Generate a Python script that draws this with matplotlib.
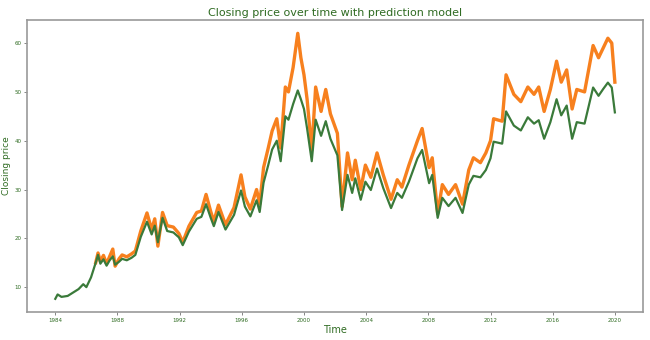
import matplotlib
matplotlib.use("Agg")
import matplotlib.pyplot as plt
from matplotlib.ticker import MultipleLocator, FormatStrFormatter

# fecha (años decimales) y precio de cierre real
years = [1984.0, 1984.15, 1984.4, 1984.8, 1985.2, 1985.5, 1985.8, 1986.0, 1986.3,
         1986.6, 1986.75, 1986.9, 1987.1, 1987.3, 1987.5, 1987.7, 1987.85, 1988.1,
         1988.3, 1988.6, 1988.9, 1989.15, 1989.5, 1989.9, 1990.2, 1990.4, 1990.6,
         1990.9, 1991.2, 1991.6, 1991.95, 1992.2, 1992.6, 1993.1, 1993.4, 1993.7,
         1994.0, 1994.2, 1994.5, 1994.95, 1995.5, 1995.95, 1996.2, 1996.55, 1996.95,
         1997.15, 1997.4, 1997.7, 1997.95, 1998.25, 1998.5, 1998.8, 1999.0, 1999.3,
         1999.6, 1999.8, 2000.0, 2000.2, 2000.5, 2000.75, 2001.1, 2001.4, 2001.7,
         2002.15, 2002.45, 2002.8, 2003.1, 2003.3, 2003.65, 2003.95, 2004.3, 2004.7,
         2005.1, 2005.6, 2006.0, 2006.3, 2006.75, 2007.3, 2007.6, 2008.05, 2008.25,
         2008.6, 2008.9, 2009.3, 2009.75, 2010.2, 2010.6, 2010.9, 2011.35, 2011.7,
         2012.0, 2012.2, 2012.75, 2013.0, 2013.5, 2013.95, 2014.4, 2014.8, 2015.1,
         2015.45, 2015.85, 2016.25, 2016.55, 2016.9, 2017.25, 2017.55, 2018.05,
         2018.6, 2018.95, 2019.25, 2019.55, 2019.8, 2020.0]

close = [7.6, 8.5, 8.0, 8.2, 9.0, 9.6, 10.6, 10.0, 12.0,
         15.0, 16.6, 14.8, 15.7, 14.4, 15.5, 16.3, 14.6, 15.2,
         15.8, 15.5, 16.0, 16.6, 20.3, 23.4, 20.8, 22.6, 19.2,
         24.2, 21.5, 21.2, 20.2, 18.6, 21.4, 24.0, 24.4, 27.0,
         24.2, 22.5, 25.4, 21.8, 24.8, 29.8, 26.5, 24.5, 27.8,
         25.4, 31.4, 35.0, 38.2, 40.0, 35.8, 45.0, 44.3, 47.5,
         50.3, 48.5, 46.5, 42.5, 35.8, 44.3, 41.0, 44.0, 40.4,
         37.0, 25.8, 33.0, 29.3, 32.3, 27.9, 31.6, 29.9, 34.3,
         30.3, 26.2, 29.3, 28.3, 31.6, 36.4, 38.1, 31.3, 33.0,
         24.2, 28.3, 26.6, 28.3, 25.2, 31.0, 32.8, 32.5, 34.0,
         36.4, 39.8, 39.4, 46.0, 43.1, 42.1, 44.8, 43.5, 44.2,
         40.4, 43.8, 48.5, 45.2, 47.2, 40.4, 43.8, 43.5,
         50.9, 49.2, 50.6, 51.9, 50.9, 45.8]

# predicción del modelo (empieza en 1986.6)
pred_years = years[9:]
pred = [15.0, 17.0, 15.3, 16.5, 14.8, 16.3, 17.8, 14.3, 15.8,
        16.6, 16.2, 16.8, 17.4, 21.5, 25.2, 21.8, 24.0, 18.4,
        25.3, 22.6, 22.3, 21.0, 19.2, 22.5, 25.3, 25.6, 29.0,
        25.5, 23.5, 26.8, 22.8, 26.3, 33.0, 28.5, 26.0, 30.0,
        27.0, 34.5, 38.5, 42.0, 44.5, 38.5, 51.0, 50.0, 55.0,
        62.0, 57.0, 53.5, 48.5, 38.0, 51.0, 46.0, 50.5, 45.5,
        41.5, 26.5, 37.5, 32.0, 36.0, 30.0, 35.0, 32.5, 37.5,
        33.0, 28.0, 32.0, 30.5, 35.0, 40.0, 42.5, 34.5, 36.5,
        25.0, 31.0, 29.0, 31.0, 27.0, 34.0, 36.5, 35.5, 37.5,
        40.0, 44.5, 44.0, 53.5, 49.5, 48.0, 51.0, 49.5, 51.0,
        46.0, 50.5, 56.3, 52.0, 54.5, 46.5, 50.5, 50.0,
        59.5, 57.0, 59.0, 61.0, 60.0, 52.0]

verde = "#3a7a3a"
naranja = "#f7801e"

fig = plt.figure(figsize=(6.5, 3.4), dpi=100)
ax = fig.add_axes([0.042, 0.082, 0.947, 0.859])

ax.plot(pred_years, pred, color=naranja, linewidth=2.4)
ax.plot(years, close, color=verde, linewidth=1.6)

ax.set_title("Closing price over time with prediction model", color="#2f6b22", fontsize=8, pad=3)
ax.set_xlabel("Time", color="#2f6b22", fontsize=7, labelpad=2)
ax.set_ylabel("Closing price", color="#2f6b22", fontsize=6.5)
ax.yaxis.set_label_coords(-0.026, 0.5)

ax.xaxis.set_major_locator(MultipleLocator(4))
ax.xaxis.set_major_formatter(FormatStrFormatter("%d"))
ax.yaxis.set_major_locator(MultipleLocator(10))
ax.tick_params(labelsize=4, colors="#2f6b22", length=2, width=0.5, pad=2)
ax.tick_params(axis="both", color="#555555")

for s in ax.spines.values():
    s.set_color("#999999")
    s.set_linewidth(1.2)

fig.savefig("out.png", dpi=100)
